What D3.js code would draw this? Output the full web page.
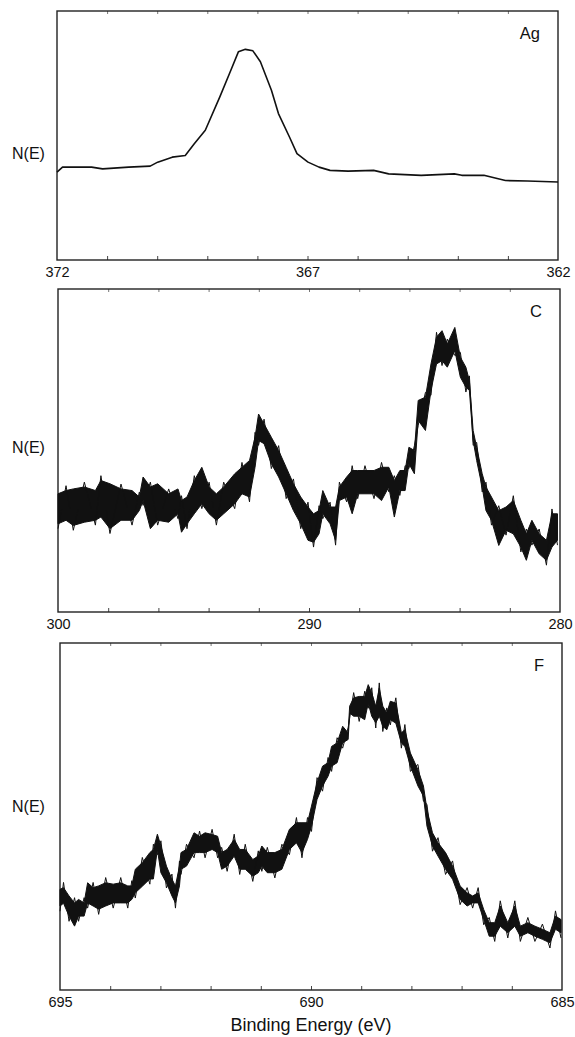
<!DOCTYPE html>
<html>
<head>
<meta charset="utf-8">
<script src="https://cdn.jsdelivr.net/npm/d3@7"></script>
<style>
  body { margin: 0; background: #fff; }
  text { font-family: "Liberation Sans", Arial, sans-serif; fill: #111; }
</style>
</head>
<body>
<div id="chart"></div>
<script>
// --- Ag 3d region (thin trace) ---
var agEnergy = [372.0, 371.89, 371.31, 371.09, 370.57, 370.14, 369.99, 369.70, 369.44, 369.26, 369.04,
  368.75, 368.53, 368.38, 368.24, 368.09, 367.94, 367.72, 367.58, 367.36, 367.21, 366.99, 366.77,
  366.55, 366.19, 365.68, 365.38, 364.73, 364.07, 363.92, 363.48, 363.05, 362.61, 362.0];
var agCounts = [35.3, 37.3, 37.3, 36.6, 37.3, 37.7, 39.3, 41.3, 42.0, 46.7, 52.1,
  65.5, 76.2, 83.6, 84.6, 84.0, 79.6, 68.2, 58.8, 49.4, 42.7, 39.3, 37.3,
  36.0, 35.7, 36.0, 34.6, 34.0, 34.6, 34.0, 34.0, 31.9, 31.7, 31.3];

// --- C 1s region (noisy trace: upper / lower envelope) ---
var cEnergy = [300.00, 299.68, 299.39, 298.95, 298.51, 298.29, 297.93, 297.49, 297.05, 296.76, 296.61,
  296.32, 296.03, 295.59, 295.22, 295.08, 294.86, 294.57, 294.27, 293.98, 293.69, 293.40, 292.96,
  292.67, 292.37, 292.15, 292.01, 291.79, 291.50, 291.21, 290.91, 290.62, 290.33, 290.04, 289.82,
  289.60, 289.45, 289.16, 288.94, 288.79, 288.50, 288.28, 288.06, 287.77, 287.41, 287.11, 286.82,
  286.60, 286.38, 286.17, 286.02, 285.80, 285.65, 285.36, 285.14, 284.92, 284.70, 284.49, 284.19,
  283.97, 283.75, 283.61, 283.46, 283.32, 283.10, 282.95, 282.73, 282.44, 282.15, 281.86, 281.56,
  281.34, 281.12, 280.83, 280.54, 280.32, 280.10];
var cUpper = [36.6, 37.6, 38.1, 38.7, 37.6, 40.7, 39.7, 38.1, 37.6, 35.6, 41.8,
  38.7, 39.7, 36.6, 38.1, 34.5, 35.6, 40.7, 44.8, 38.7, 36.6, 38.7, 42.8,
  44.8, 46.9, 54.1, 61.3, 58.2, 54.1, 50.0, 44.8, 39.7, 35.6, 32.5, 30.4,
  31.4, 37.6, 32.5, 32.5, 38.7, 41.8, 43.8, 43.8, 43.8, 43.8, 44.8, 44.8,
  40.7, 43.8, 43.8, 51.0, 50.0, 65.5, 66.5, 76.8, 85.1, 87.1, 83.0, 88.1,
  78.9, 75.8, 71.6, 56.2, 51.0, 42.8, 38.7, 35.6, 31.4, 32.5, 34.5, 28.4,
  24.2, 28.4, 24.2, 22.2, 30.4, 30.4];
var cLower = [27.3, 28.4, 26.8, 27.8, 28.4, 29.4, 25.8, 28.4, 28.4, 31.4, 34.5,
  25.8, 28.4, 27.8, 30.4, 24.7, 27.3, 30.4, 33.5, 30.4, 28.4, 30.4, 33.5,
  36.6, 35.6, 44.8, 53.1, 52.1, 45.9, 41.8, 36.6, 31.4, 27.3, 22.2, 21.6,
  24.2, 30.4, 27.3, 22.2, 34.5, 35.6, 30.4, 36.6, 36.6, 36.6, 34.5, 38.7,
  29.4, 37.6, 37.6, 45.9, 42.8, 59.3, 56.2, 68.6, 76.8, 77.8, 75.8, 80.9,
  72.7, 69.6, 68.6, 53.1, 46.9, 38.7, 31.4, 28.4, 20.6, 25.3, 24.2, 20.1,
  16.0, 22.2, 18.0, 16.0, 20.1, 22.2];

// --- F 1s region (noisy trace: upper / lower envelope) ---
var fEnergy = [695.00, 694.93, 694.82, 694.71, 694.63, 694.52, 694.45, 694.34, 694.23, 694.09, 693.94,
  693.79, 693.65, 693.57, 693.50, 693.36, 693.21, 693.14, 693.06, 692.99, 692.88, 692.77, 692.70,
  692.62, 692.59, 692.48, 692.33, 692.22, 692.11, 691.97, 691.86, 691.78, 691.67, 691.53, 691.42,
  691.31, 691.16, 691.05, 690.98, 690.87, 690.72, 690.58, 690.43, 690.29, 690.18, 690.07, 689.99,
  689.88, 689.77, 689.66, 689.59, 689.48, 689.37, 689.26, 689.23, 689.15, 689.04, 688.93, 688.86,
  688.79, 688.71, 688.64, 688.57, 688.49, 688.42, 688.31, 688.20, 688.13, 688.02, 687.87, 687.76,
  687.69, 687.58, 687.47, 687.32, 687.18, 687.03, 686.89, 686.78, 686.67, 686.56, 686.45, 686.34,
  686.23, 686.08, 685.94, 685.83, 685.68, 685.54, 685.39, 685.24, 685.13, 685.02];
var fUpper = [29.0, 29.5, 27.1, 25.1, 26.1, 25.1, 30.9, 29.5, 30.0, 30.9, 30.5,
  30.9, 30.0, 30.0, 34.8, 36.7, 39.6, 40.5, 44.9, 41.5, 35.7, 31.9, 30.0,
  35.7, 39.6, 40.5, 45.3, 44.3, 45.3, 44.8, 44.3, 39.6, 40.5, 43.4, 40.5,
  40.5, 37.6, 38.6, 41.5, 39.6, 39.6, 40.5, 46.3, 48.2, 48.2, 48.2, 53.0,
  59.7, 64.5, 65.5, 70.2, 71.2, 76.0, 74.1, 81.8, 84.2, 84.6, 84.6, 88.0,
  85.6, 81.8, 87.0, 81.8, 79.8, 83.2, 82.7, 74.1, 75.0, 68.3, 63.5, 58.8,
  52.0, 45.3, 42.4, 39.6, 35.7, 30.0, 28.0, 27.1, 28.0, 23.2, 19.4, 19.4,
  24.2, 19.4, 24.2, 18.4, 19.4, 18.4, 17.5, 16.5, 21.3, 20.3];
var fLower = [24.2, 25.0, 21.3, 18.4, 21.3, 21.3, 25.1, 24.2, 23.3, 24.2, 25.1,
  25.1, 25.1, 26.1, 28.0, 29.9, 32.0, 32.0, 40.5, 33.8, 30.9, 27.1, 25.1,
  30.0, 34.8, 35.7, 39.6, 39.6, 39.6, 40.5, 39.6, 34.8, 35.7, 38.6, 34.8,
  34.8, 32.8, 33.8, 35.7, 33.8, 33.8, 34.8, 40.5, 42.4, 39.6, 43.4, 47.2,
  54.9, 58.8, 61.6, 64.5, 65.5, 71.2, 72.2, 79.8, 78.9, 78.9, 77.9, 82.7,
  78.9, 77.0, 78.9, 76.0, 75.0, 77.9, 76.9, 71.2, 70.2, 64.5, 58.8, 55.9,
  47.2, 41.5, 38.6, 34.8, 31.9, 26.1, 24.2, 25.1, 25.1, 20.3, 15.5, 15.5,
  18.4, 16.5, 18.4, 15.5, 16.5, 15.5, 14.6, 13.6, 17.5, 16.5];

var panelLabels = ["Ag", "C", "F"];
var axisDomains = [[372, 362], [300, 280], [695, 685]];
var tickLabels = [[372, 367, 362], [300, 290, 280], [695, 690, 685]];
var minorTickStep = [1, 2, 1];
var yLabel = "N(E)";
var xTitle = "Binding Energy (eV)";

var W = 575, H = 1037;
var svg = d3.select("#chart").append("svg")
    .attr("width", W)
    .attr("height", H);

// panel boxes on the page; labelAt = where N(E) sits, as fraction of the panel height
var boxes = [
  { left: 57, right: 558, top: 11, bottom: 260, labelAt: 0.43 },
  { left: 58, right: 560, top: 289, bottom: 612, labelAt: 0.51 },
  { left: 60, right: 562, top: 643, bottom: 990, labelAt: 0.53 }
];

function drawPanel(i, draw) {
  var b = boxes[i];
  var x = d3.scaleLinear().domain(axisDomains[i]).range([b.left, b.right]);
  var y = d3.scaleLinear().domain([0, 100]).range([b.bottom, b.top]);
  var g = svg.append("g");

  // inward minor ticks along bottom and top
  var d = axisDomains[i], step = minorTickStep[i];
  var minor = d3.range(Math.min(d[0], d[1]) + step, Math.max(d[0], d[1]), step);
  g.append("g")
      .attr("transform", "translate(0," + b.bottom + ")")
      .call(d3.axisTop(x).tickValues(minor).tickSize(4).tickFormat(""))
      .call(function(s) { s.select(".domain").remove(); s.selectAll("line").attr("stroke", "#444"); });
  g.append("g")
      .attr("transform", "translate(0," + b.top + ")")
      .call(d3.axisBottom(x).tickValues(minor).tickSize(3).tickFormat(""))
      .call(function(s) { s.select(".domain").remove(); s.selectAll("line").attr("stroke", "#777"); });

  // bottom labels
  g.append("g")
      .attr("transform", "translate(0," + b.bottom + ")")
      .call(d3.axisBottom(x).tickValues(tickLabels[i]).tickSize(0).tickPadding(7).tickFormat(d3.format("d")))
      .call(function(s) {
        s.select(".domain").remove();
        s.selectAll("text").attr("font-size", 14.5).attr("font-family", "Liberation Sans, Arial, sans-serif").attr("fill", "#111");
      });

  // frame
  g.append("rect")
      .attr("x", b.left).attr("y", b.top)
      .attr("width", b.right - b.left).attr("height", b.bottom - b.top)
      .attr("fill", "none").attr("stroke", "#222").attr("stroke-width", 1.4);

  g.append("text")
      .attr("x", 12).attr("y", y(b.labelAt * 100) + 6)
      .attr("font-size", 16)
      .text(yLabel);

  g.append("text")
      .attr("x", b.right - 18).attr("y", b.top + 28)
      .attr("text-anchor", "end")
      .attr("font-size", 16.5)
      .text(panelLabels[i]);

  draw(g, x, y);
}

drawPanel(0, function(g, x, y) {
  var pts = agEnergy.map(function(e, k) { return [e, agCounts[k]]; });
  g.append("path")
      .datum(pts)
      .attr("fill", "none")
      .attr("stroke", "#111")
      .attr("stroke-width", 1.6)
      .attr("stroke-linejoin", "round")
      .attr("d", d3.line().x(function(d) { return x(d[0]); }).y(function(d) { return y(d[1]); }));
});

function bandDraw(energy, upper, lower) {
  return function(g, x, y) {
    var pts = energy.map(function(e, k) { return { e: e, u: upper[k], l: lower[k] }; });
    g.append("path")
        .datum(pts)
        .attr("fill", "#111")
        .attr("stroke", "#111")
        .attr("stroke-width", 1)
        .attr("d", d3.area()
            .x(function(d) { return x(d.e); })
            .y0(function(d) { return y(d.l); })
            .y1(function(d) { return y(d.u); }));
    // zigzag through the envelope for the noisy look
    g.append("path")
        .datum(pts)
        .attr("fill", "none")
        .attr("stroke", "#111")
        .attr("stroke-width", 1)
        .attr("d", d3.line()
            .x(function(d) { return x(d.e); })
            .y(function(d, k) { return y(k % 2 ? d.u + 1.5 : d.l - 1.5); }));
  };
}

drawPanel(1, bandDraw(cEnergy, cUpper, cLower));
drawPanel(2, bandDraw(fEnergy, fUpper, fLower));

svg.append("text")
    .attr("x", 311).attr("y", 1031)
    .attr("text-anchor", "middle")
    .attr("font-size", 18)
    .text(xTitle);
</script>
</body>
</html>
